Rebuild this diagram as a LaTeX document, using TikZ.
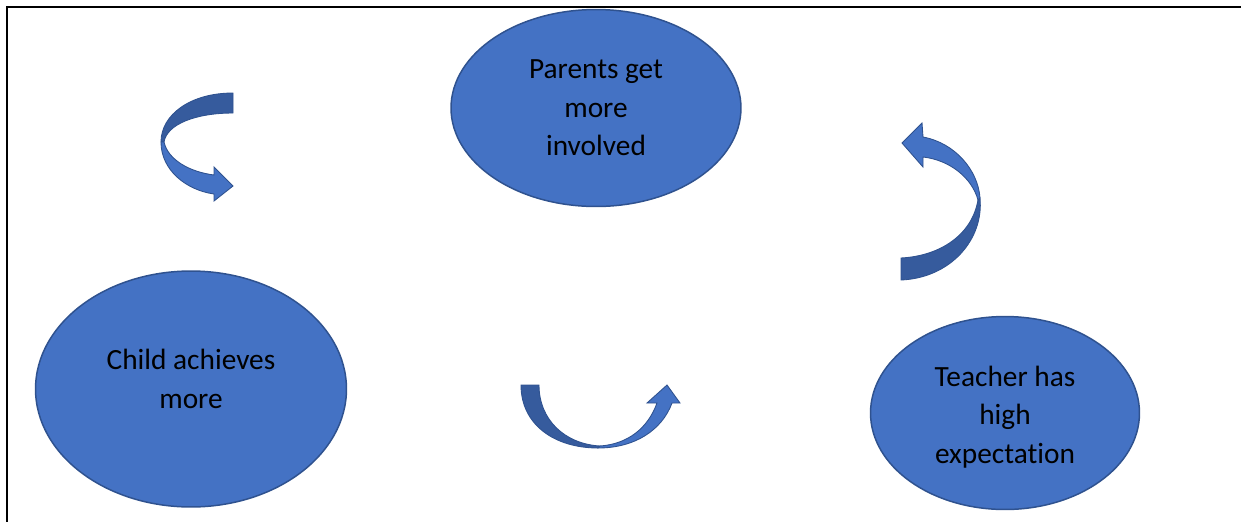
\documentclass[tikz,border=0pt]{standalone}
\usepackage{fontspec}
\setmainfont{Carlito}[Ligatures=NoCommon]
\usetikzlibrary{shapes.geometric}
\definecolor{officeblue}{HTML}{4472C4}
\definecolor{officedark}{HTML}{365B9D}
\definecolor{officeline}{HTML}{2F528F}
\tikzset{
  bubble/.style={ellipse, draw=officeline, fill=officeblue, line width=0.85pt,
    inner sep=0pt, align=center, font=\fontsize{16.7}{21.9}\selectfont},
  bubbletext/.style={align=center, font=\fontsize{16.7}{21.9}\selectfont},
  backband/.style={fill=officedark, draw=officeline, line width=0.5pt},
  frontband/.style={fill=officeblue, draw=officeline, line width=0.5pt}
}
\begin{document}
\begin{tikzpicture}[x=0.02cm, y=-0.02cm]
  \useasboundingbox (0,0) rectangle (1241,522);
  \draw[line width=1.5pt] (1241,7) -- (7,7) -- (7,522);
  % the three stages
  \node[bubble, minimum width=5.8cm, minimum height=3.94cm] (parents) at (596,108)
    {Parents get\\more\\involved};
  \node[bubble, minimum width=6.22cm, minimum height=4.72cm] (child) at (191,389) {};
  \node[bubbletext] (childtext) at (191,379) {Child achieves\\more};
  \node[bubble, minimum width=5.38cm, minimum height=3.86cm] (teacher) at (1005,413) {};
  \node[bubbletext] (teachertext) at (1005,417) {Teacher has\\high\\expectation};
  % curved arrow, top left
  \filldraw[backband] (233,93) .. controls (190,93) and (161,115) .. (161,142)
    -- (164,142) .. controls (167,124) and (196,113) .. (233,113) -- cycle;
  \filldraw[frontband] (161,142) .. controls (161,170) and (186,190) .. (214,194)
    -- (214,201) -- (233,186) -- (214,167) -- (214,175)
    .. controls (190,172) and (168,160) .. (164,142) -- cycle;
  % curved arrow, right
  \filldraw[backband] (980,198) .. controls (984,240) and (950,278) .. (901,280)
    -- (901,258) .. controls (940,256) and (972,235) .. (978,200) -- cycle;
  \filldraw[frontband] (980,198) .. controls (978,170) and (955,143) .. (923,137)
    -- (922,123) -- (902,143) -- (923,167) -- (923,157)
    .. controls (950,160) and (972,178) .. (978,200) -- cycle;
  % curved arrow, bottom
  \filldraw[backband] (521,385) .. controls (521,425) and (555,448) .. (598,448)
    -- (600,446) .. controls (565,444) and (539,420) .. (539,385) -- cycle;
  \filldraw[frontband] (598,448) .. controls (635,448) and (662,430) .. (672,403)
    -- (680,403) -- (667,385) -- (647,403) -- (657,403)
    .. controls (648,428) and (628,444) .. (600,446) -- cycle;
\end{tikzpicture}
\end{document}
